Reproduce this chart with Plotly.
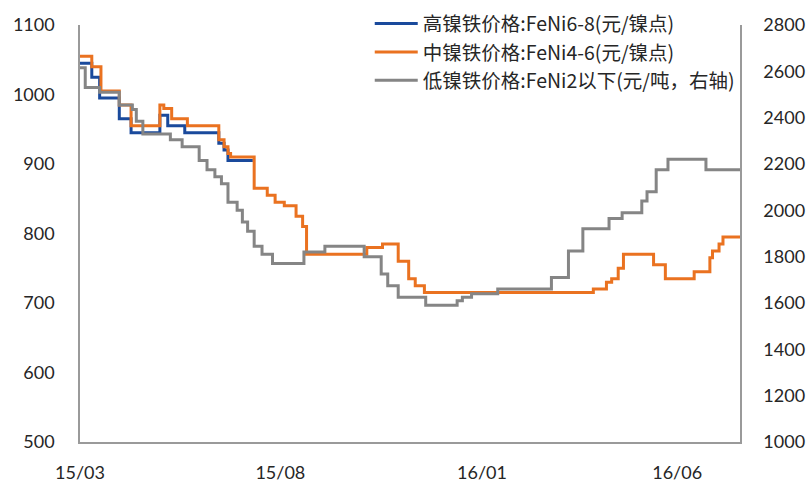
import plotly.graph_objects as go

# 价格变动点（日期, 价格），按阶梯线绘制
gao_dates = ["2015-03-03", "2015-03-12", "2015-03-18", "2015-04-02", "2015-04-11",
             "2015-05-03", "2015-05-09", "2015-05-22", "2015-06-17", "2015-06-21",
             "2015-06-24", "2015-07-13"]
gao_vals = [1045, 1025, 995, 965, 945, 970, 955, 945, 930, 920, 905, 905]

zhong_dates = ["2015-03-03", "2015-03-12", "2015-03-19", "2015-04-02", "2015-04-11",
               "2015-05-03", "2015-05-06", "2015-05-12", "2015-05-24", "2015-06-17",
               "2015-06-21", "2015-06-24", "2015-06-26", "2015-07-14", "2015-07-24",
               "2015-07-30", "2015-08-06", "2015-08-15", "2015-08-20", "2015-08-23",
               "2015-10-08", "2015-10-20", "2015-11-01", "2015-11-09", "2015-11-14",
               "2015-11-21", "2016-03-29", "2016-04-08", "2016-04-12", "2016-04-17",
               "2016-04-21", "2016-05-14", "2016-05-23", "2016-06-14", "2016-06-26",
               "2016-06-28", "2016-07-03", "2016-07-06", "2016-07-19"]
zhong_vals = [1055, 1040, 1005, 985, 955, 985, 980, 965, 955, 935,
              925, 915, 910, 865, 855, 845, 840, 825, 810, 770,
              780, 785, 760, 735, 725, 715, 720, 730, 735, 750,
              770, 755, 735, 745, 765, 775, 785, 795, 795]

di_dates = ["2015-03-03", "2015-03-07", "2015-03-18", "2015-04-02", "2015-04-12",
            "2015-04-15", "2015-04-20", "2015-05-11", "2015-05-20", "2015-06-02",
            "2015-06-08", "2015-06-14", "2015-06-19", "2015-06-24", "2015-07-01",
            "2015-07-05", "2015-07-09", "2015-07-14", "2015-07-20", "2015-07-28",
            "2015-08-21", "2015-09-06", "2015-10-06", "2015-10-19", "2015-10-24",
            "2015-11-01", "2015-11-22", "2015-12-16", "2015-12-20", "2015-12-27",
            "2016-01-16", "2016-02-26", "2016-03-10", "2016-03-21", "2016-04-10",
            "2016-04-20", "2016-05-05", "2016-05-09", "2016-05-16", "2016-05-25",
            "2016-06-23", "2016-07-19"]
di_vals = [2615, 2530, 2510, 2455, 2435, 2385, 2330, 2305, 2275, 2215,
           2175, 2145, 2115, 2035, 2000, 1950, 1910, 1845, 1810, 1770,
           1820, 1845, 1800, 1725, 1675, 1625, 1590, 1610, 1625, 1640,
           1660, 1710, 1825, 1920, 1965, 1990, 2040, 2080, 2175, 2220,
           2175, 2175]

tick_dates = ["2015-03-03", "2015-08-03", "2016-01-04", "2016-06-01"]
tick_text = ["15/03", "15/08", "16/01", "16/06"]

fig = go.Figure()
fig.add_trace(go.Scatter(x=gao_dates, y=gao_vals, mode="lines", line_shape="hv",
                         name="高镍铁价格:FeNi6-8(元/镍点)", legendgroup="a",
                         line=dict(color="#1A4A9C", width=3)))
fig.add_trace(go.Scatter(x=zhong_dates, y=zhong_vals, mode="lines", line_shape="hv",
                         name="中镍铁价格:FeNi4-6(元/镍点)", legendgroup="b",
                         line=dict(color="#EA7220", width=3)))
fig.add_trace(go.Scatter(x=di_dates, y=di_vals, mode="lines", line_shape="hv", yaxis="y2",
                         name="低镍铁价格:FeNi2以下(元/吨，右轴)", legendgroup="c",
                         line=dict(color="#858585", width=3)))

font_main = "Lato, Noto Sans CJK SC, sans-serif"
top_dom = (442 - 25) / 442

fig.update_layout(
    width=809, height=488,
    margin=dict(l=80, r=69, t=0, b=46, autoexpand=False),
    plot_bgcolor="white", paper_bgcolor="white",
    font=dict(family=font_main, size=18, color="#262626"),
    showlegend=True,
    legend=dict(x=0.439, y=0.99, xanchor="left", yanchor="top",
                bgcolor="rgba(0,0,0,0)", traceorder="grouped", tracegroupgap=0,
                itemwidth=43,
                font=dict(size=19.5, family="Noto Sans CJK SC, sans-serif")),
    xaxis=dict(type="date", range=["2015-03-03", "2016-07-19"],
               tickvals=tick_dates, ticktext=tick_text, automargin=False,
               showline=True, linecolor="#9A9A9A", linewidth=1.5,
               showgrid=False, zeroline=False, ticks="", ticklabelstandoff=14),
    yaxis=dict(range=[500, 1100], dtick=100, showline=True, linecolor="#9A9A9A",
               linewidth=1.5, showgrid=False, zeroline=False, ticks="",
               ticklabelstandoff=20, automargin=False, domain=[0, top_dom]),
    yaxis2=dict(range=[1000, 2800], dtick=200, overlaying="y", side="right",
                showline=True, linecolor="#9A9A9A", linewidth=1.5, automargin=False,
                showgrid=False, zeroline=False, ticks="", ticklabelstandoff=18),
)

# 去掉页面默认的 8px 边距
fig.write_html("out.html", config={"displayModeBar": False},
               post_script="document.body.style.margin='0px';")
